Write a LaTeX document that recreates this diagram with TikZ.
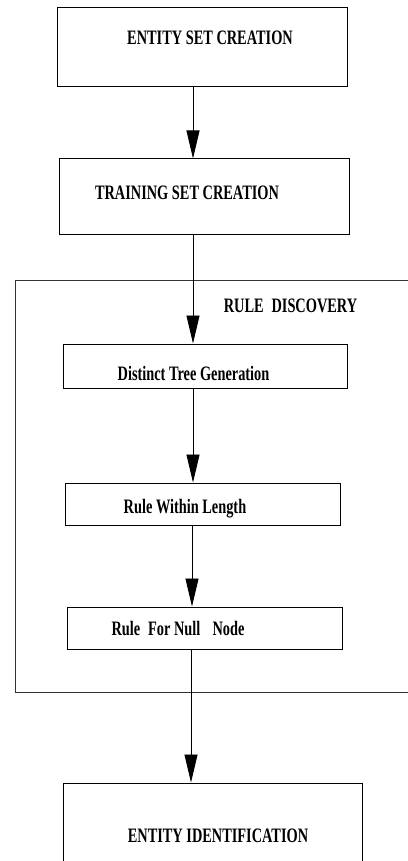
\documentclass[tikz,border=0pt]{standalone}
\usepackage{fontspec}
\usepackage{graphicx}
\setmainfont{Liberation Serif}
\usetikzlibrary{arrows.meta}
\newcommand{\lbl}[1]{\scalebox{0.70}[1]{\fontsize{20.5}{23}\selectfont\bfseries #1}}
\begin{document}
\begin{tikzpicture}[x=1pt,y=-1pt,
  box/.style={draw=black,line width=1pt,inner sep=0pt,fill=none},
  txt/.style={inner sep=0pt,anchor=base},
  arr/.style={draw=black,line width=0.9pt,-{Triangle[width=13pt,length=28pt]}},
  ln/.style={draw=black,line width=0.9pt}]
\useasboundingbox (0,0) rectangle (407,861);
\fill[white] (0,0) rectangle (407,861);
% boxes
\node[box,minimum width=290pt,minimum height=79pt] (b1) at (202,47.5) {};
\node[box,minimum width=290pt,minimum height=75pt] (b2) at (204,196.5) {};
\coordinate (oTR) at (420,280);
\coordinate (oTL) at (15,280);
\coordinate (oBL) at (15,692);
\coordinate (oBR) at (420,692);
\draw[line width=1pt,draw=black!80] (oTR) -- (oTL) -- (oBL) -- (oBR);
\node[box,minimum width=284pt,minimum height=44pt] (b3) at (205,366) {};
\node[box,minimum width=275pt,minimum height=42pt] (b4) at (202.5,504) {};
\node[box,minimum width=275pt,minimum height=42pt] (b5) at (204.5,628) {};
\node[box,minimum width=299pt,minimum height=87pt] (b6) at (212.5,826.5) {};
% texts
\node[txt] (t1) at (210,45) {\lbl{ENTITY SET CREATION}};
\node[txt] (t2) at (187,200) {\lbl{TRAINING SET CREATION}};
\node[txt] (t3) at (290.5,312.5) {\lbl{RULE\hspace{0.3em} DISCOVERY}};
\node[txt] (t4) at (193.5,380) {\lbl{Distinct Tree Generation}};
\node[txt] (t5) at (185,513) {\lbl{Rule Within Length}};
\node[txt] (t6) at (178,635) {\lbl{Rule\hspace{0.3em} For Null\hspace{0.6em} Node}};
\node[txt] (t7) at (218,842) {\lbl{ENTITY IDENTIFICATION}};
% arrows
\coordinate (ax1) at (193,0);
\coordinate (ax2) at (192,0);
\coordinate (ax3) at (191,0);
\draw[arr] (b1.south -| ax1) -- (b2.north -| ax1);
\draw[arr] (b2.south -| ax1) -- (b3.north -| ax1);
\draw[arr] (b3.south -| ax1) -- (b4.north -| ax1);
\draw[arr] (b4.south -| ax2) -- (b5.north -| ax2);
\draw[arr] (b5.south -| ax3) -- (b6.north -| ax3);
\end{tikzpicture}
\end{document}
